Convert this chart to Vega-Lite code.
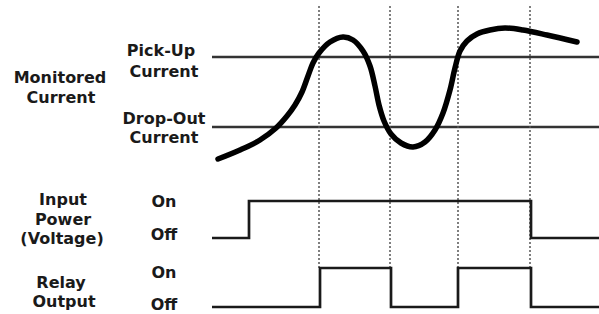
{
  "$schema": "https://vega.github.io/schema/vega-lite/v6.json",
  "autosize": {"type": "none"},
  "width": 599,
  "height": 314,
  "padding": 0,
  "background": "white",
  "view": {"stroke": null},
  "config": {"text": {"font": "DejaVu Sans", "fontWeight": "bold", "fontSize": 16, "color": "#1a1a1a", "align": "center", "baseline": "alphabetic"}},
  "datasets": {
    "thresholds": [
      {"name": "Pick-Up", "t0": 212, "t1": 599, "v": 57},
      {"name": "Drop-Out", "t0": 212, "t1": 599, "v": 127}
    ],
    "events": [
      {"t": 319, "top": 6, "bottom": 268},
      {"t": 390, "top": 6, "bottom": 268},
      {"t": 458, "top": 6, "bottom": 268},
      {"t": 530, "top": 6, "bottom": 268}
    ],
    "current": [
      {"t": 218, "v": 159}, {"t": 240, "v": 150}, {"t": 260, "v": 140}, {"t": 276, "v": 128},
      {"t": 287, "v": 116}, {"t": 295, "v": 105}, {"t": 302, "v": 92}, {"t": 308, "v": 76},
      {"t": 313, "v": 63}, {"t": 319, "v": 53}, {"t": 330, "v": 42},
      {"t": 343, "v": 37}, {"t": 353, "v": 40}, {"t": 363, "v": 51}, {"t": 370, "v": 66},
      {"t": 375, "v": 86}, {"t": 379, "v": 105}, {"t": 384, "v": 121}, {"t": 391, "v": 134},
      {"t": 401, "v": 143}, {"t": 413, "v": 147}, {"t": 425, "v": 142}, {"t": 435, "v": 130},
      {"t": 443, "v": 113}, {"t": 450, "v": 90}, {"t": 455, "v": 68}, {"t": 460, "v": 51},
      {"t": 467, "v": 41}, {"t": 477, "v": 34}, {"t": 490, "v": 30}, {"t": 505, "v": 28},
      {"t": 523, "v": 30}, {"t": 547, "v": 35}, {"t": 577, "v": 42}
    ],
    "signals": [
      {"sig": "Input Power", "t": 212, "v": 238},
      {"sig": "Input Power", "t": 249, "v": 201},
      {"sig": "Input Power", "t": 531, "v": 238},
      {"sig": "Input Power", "t": 599, "v": 238},
      {"sig": "Relay Output", "t": 212, "v": 307},
      {"sig": "Relay Output", "t": 320, "v": 268},
      {"sig": "Relay Output", "t": 391, "v": 307},
      {"sig": "Relay Output", "t": 458, "v": 268},
      {"sig": "Relay Output", "t": 531, "v": 307},
      {"sig": "Relay Output", "t": 599, "v": 307}
    ],
    "labels": [
      {"text": "Monitored", "t": 60, "v": 83},
      {"text": "Current", "t": 61, "v": 103},
      {"text": "Pick-Up", "t": 161, "v": 56},
      {"text": "Current", "t": 164, "v": 77},
      {"text": "Drop-Out", "t": 164, "v": 124},
      {"text": "Current", "t": 164, "v": 143},
      {"text": "Input", "t": 63, "v": 205},
      {"text": "Power", "t": 63, "v": 225},
      {"text": "(Voltage)", "t": 62, "v": 244},
      {"text": "On", "t": 164, "v": 207},
      {"text": "Off", "t": 164, "v": 240},
      {"text": "Relay", "t": 61, "v": 288},
      {"text": "Output", "t": 64, "v": 307},
      {"text": "On", "t": 164, "v": 278},
      {"text": "Off", "t": 164, "v": 310}
    ]
  },
  "resolve": {"scale": {"x": "shared", "y": "shared"}},
  "layer": [
    {
      "data": {"name": "thresholds"},
      "mark": {"type": "rule", "color": "#333333", "strokeWidth": 2.5},
      "encoding": {
        "x": {"field": "t0", "type": "quantitative", "scale": {"domain": [0, 599], "nice": false, "zero": false}, "axis": null},
        "x2": {"field": "t1"},
        "y": {"field": "v", "type": "quantitative", "scale": {"domain": [0, 314], "nice": false, "zero": false, "reverse": true}, "axis": null}
      }
    },
    {
      "data": {"name": "events"},
      "mark": {"type": "rule", "color": "#555555", "strokeWidth": 1.5, "strokeDash": [2, 2]},
      "encoding": {
        "x": {"field": "t", "type": "quantitative"},
        "y": {"field": "top", "type": "quantitative"},
        "y2": {"field": "bottom"}
      }
    },
    {
      "data": {"name": "signals"},
      "mark": {"type": "line", "interpolate": "step-after", "color": "#1a1a1a", "strokeWidth": 2.7},
      "encoding": {
        "x": {"field": "t", "type": "quantitative"},
        "y": {"field": "v", "type": "quantitative"},
        "detail": {"field": "sig"}
      }
    },
    {
      "data": {"name": "current"},
      "mark": {"type": "line", "interpolate": "catmull-rom", "color": "#000000", "strokeWidth": 5.5, "strokeCap": "round", "strokeJoin": "round"},
      "encoding": {
        "x": {"field": "t", "type": "quantitative"},
        "y": {"field": "v", "type": "quantitative"},
        "order": {"field": "t", "type": "quantitative"}
      }
    },
    {
      "data": {"name": "labels"},
      "mark": {"type": "text"},
      "encoding": {
        "x": {"field": "t", "type": "quantitative"},
        "y": {"field": "v", "type": "quantitative"},
        "text": {"field": "text"}
      }
    }
  ]
}
